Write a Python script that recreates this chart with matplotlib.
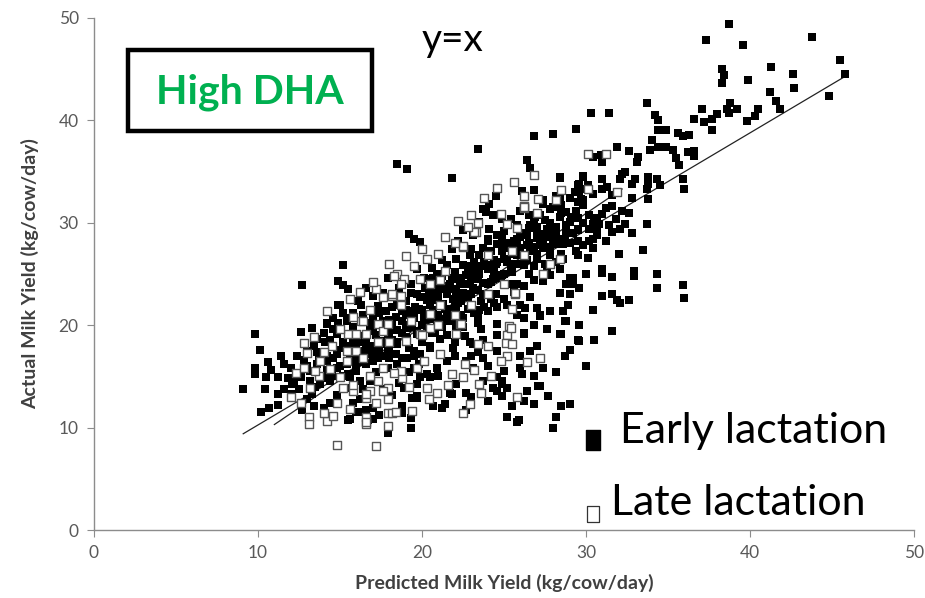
import numpy as np
import matplotlib
matplotlib.use("Agg")
import matplotlib.pyplot as plt
from matplotlib.lines import Line2D
from matplotlib.patches import Rectangle

plt.rcParams['font.family'] = ['Lato', 'DejaVu Sans']

# predicted vs actual milk yield (kg/cow/day)
early_pts = [
    (37.3,47.9),(39.6,47.4),(43.8,48.1),(45.5,45.9),(45.8,44.5),(44.8,42.4),(41.3,45.2),(42.6,44.5),(42.7,43.2),
    (41.2,42.8),(41.6,41.9),(41.8,41.1),(39.9,43.9),(38.3,45.0),(38.4,44.4),(38.3,43.7),(40.5,41.1),(40.3,40.4),
    (39.8,39.9),(38.8,41.7),(39.2,41.1),(38.6,41.1),(38.7,40.7),(38.0,40.6),(37.7,40.1),(37.7,39.1),(37.2,39.8),
    (37.1,41.1),(36.6,40.1),(36.3,38.6),(35.9,38.5),(35.6,38.8),(34.9,39.1),(34.4,39.1),(33.7,41.7),(34.2,40.5),
    (34.4,40.0),(34.0,38.1),(34.4,37.4),(34.9,37.4),(35.3,37.1),(36.6,37.0),(36.5,36.9),(36.2,36.9),(36.6,36.5),
    (35.5,36.3),(35.7,35.6),(33.9,37.1),(33.2,36.4),(33.1,35.9),(32.6,37.0),(31.9,37.4),(30.3,40.7),(31.4,40.7),
    (29.4,39.2),(35.9,34.3),(36.0,33.3),(33.8,34.5),(34.3,34.3),(33.8,33.8),(34.5,33.7),(33.7,33.3),(33.0,34.3),
    (32.8,33.8),(32.4,35.0),(32.2,34.8),(32.1,34.3),(31.0,34.3),(29.8,34.5),(33.8,32.3),(32.8,32.4),(31.9,33.0),
    (31.6,32.7),(31.0,33.3),(31.3,33.5),(30.4,32.8),(29.9,33.3),(29.5,33.7),(29.7,32.3),(31.6,31.6),(32.2,31.2),
    (31.0,30.9),(30.5,30.4),(30.4,29.9),(30.8,29.9),(31.4,29.8),(32.4,29.9),(32.1,29.4),(31.6,29.1),(33.7,29.9),
    (30.2,29.4),(30.7,28.8),(30.4,27.5),(32.0,27.0),(33.5,27.3),(30.1,26.6),(30.4,36.4),(30.9,36.6),(31.0,35.9),
    (38.7,49.4),
    (28.0,38.7),(26.8,38.5),(23.4,37.2),(18.5,35.7),(19.1,35.3),(21.8,34.4),(26.4,36.1),(26.6,35.4),(28.4,34.4),
    (29.8,34.6),(29.6,33.8),(30.1,33.7),(29.3,33.0),(29.6,33.0),(26.8,33.2),(26.1,33.1),(24.5,32.6),(24.1,31.8),
    (28.4,32.3),(28.5,31.7),(28.0,31.5),(29.8,32.2),(29.8,31.7),(29.5,32.0),(27.4,32.2),(23.9,31.1),(23.7,31.3),
    (24.3,30.8),(24.9,30.4),(25.8,29.8),(26.5,30.8),(26.9,30.6),(27.8,31.3),(28.8,31.1),(29.1,30.6),(30.2,30.8),
    (30.7,30.5),(30.4,28.4),(30.7,29.1),(29.5,29.3),(22.5,29.3),(19.2,28.9),(19.5,28.4),(19.9,28.1),(28.7,28.3),
    (28.2,27.9),(27.4,27.5),(26.8,27.2),(25.8,26.9),(25.2,27.5),(25.1,28.0),(24.9,28.4),(23.7,27.5),(24.0,28.4),
    (15.2,25.9),(12.7,23.9),(9.8,19.1),(14.9,24.3),(15.2,23.9),(15.5,23.5),(16.6,23.6),(17.0,22.9),(17.6,23.1),
    (17.9,24.6),(19.7,25.5),(21.5,25.9),(16.1,22.4),(16.3,22.0),(14.9,22.0),(17.3,21.9),(17.8,21.4),(14.6,20.7),
    (14.2,20.1),(13.3,19.7),(12.6,19.3),(13.6,18.7),(14.4,18.6),(15.4,20.7),(15.8,21.2),(18.5,22.0),(18.8,21.4),
    (19.7,23.0),(19.3,24.0),(20.1,24.6),(20.7,24.6),(20.9,24.0),(21.7,23.6),(22.1,23.3),(22.3,24.3),(22.9,24.0),
    (23.4,24.5),(23.7,23.0),(22.5,20.7),(22.6,18.9),(23.1,18.2),(23.7,18.6),(23.4,20.2),(26.2,19.2),(24.6,20.1),
    (25.2,22.0),(25.8,24.0),(26.2,20.7),
    (10.1,17.6),(11.4,17.0),(9.8,15.8),(9.8,15.2),(9.1,13.8),(10.5,14.9),(11.2,14.9),(10.4,13.8),(11.2,13.3),
    (11.2,12.2),(10.7,11.9),(10.2,11.5),(12.0,13.3),(12.1,14.3),(11.8,14.8),(12.6,14.9),(13.2,15.5),(13.5,18.7),
    (14.1,18.4),(13.4,18.0),(13.0,17.5),(13.7,16.8),(14.2,16.5),(14.8,15.8),(14.4,14.6),(13.8,14.3),(13.3,13.3),
    (12.7,11.9),(13.4,12.1),(14.0,11.9),(14.5,12.4),(15.5,10.7),(16.0,11.5),(16.6,11.7),(17.0,11.9),(16.7,10.7),
    (17.9,9.5),(19.3,10.0),(18.8,12.1),(18.8,11.4),(17.6,13.8),(16.8,14.6),(16.4,13.8),(15.4,13.9),(15.6,14.9),
    (16.0,15.5),(15.0,22.0),(14.2,20.2),(14.9,20.2),(15.4,20.4),(14.8,19.1),(15.2,18.4),(15.7,17.8),(16.2,17.2),
    (17.0,16.5),(17.9,15.8),(18.5,15.2),(18.9,13.9),(19.7,14.3),(19.4,12.9),(17.3,17.5),(16.4,18.4),(16.8,19.4),
    (17.4,20.1),(17.9,19.1),(18.5,18.4),(19.1,19.7),(19.7,19.1),(19.5,17.5),(18.8,16.8),(18.0,16.8),(20.1,16.5),
    (20.3,15.2),(20.1,20.7),(19.3,21.4),(17.4,21.2),(16.8,20.2),
    (18.2,21.8),(18.8,22.5),(19.3,23.1),(19.9,22.8),(20.3,22.5),(20.7,23.3),(21.3,23.5),(21.7,24.0),(22.1,24.5),
    (22.0,25.2),(22.7,24.9),(22.5,25.9),(23.4,25.5),(24.0,25.9),(24.6,26.2),(24.9,27.2),(25.4,27.9),(25.8,28.4),
    (26.4,28.8),(27.0,29.1),(27.6,29.4),(28.2,29.6),(28.8,29.1),(29.5,29.4),(26.6,27.2),(27.0,26.5),(26.2,25.9),
    (25.5,25.2),(24.9,24.9),(24.3,24.5),(23.7,24.1),(23.1,23.6),(22.5,23.1),(21.9,22.6),(21.3,22.1),(20.7,21.5),
    (20.1,21.1),(19.5,20.7),(18.8,20.4),(18.2,20.1),(17.6,19.7),(17.0,19.4),(16.4,18.9),(15.8,18.4),(15.2,17.8),
    (14.8,17.2),(15.4,16.2),(16.0,15.5),(16.6,16.2),(17.3,16.8),(17.9,17.5),(18.5,18.2),(19.1,18.7),(19.7,19.4),
    (20.3,19.7),(20.9,20.4),(21.5,21.1),(22.1,21.7),(23.4,20.9),(24.0,21.4),(24.6,21.8),(26.0,22.0),(26.6,22.8),
    (27.4,24.3),(27.8,24.9),(28.4,25.5),(28.8,24.0),(29.0,23.0),(28.6,21.4),(27.8,21.4),(27.2,20.9),(28.8,20.4),
    (28.4,19.1),(28.7,17.0),(26.6,17.5),(26.2,19.1),(24.6,17.5),(24.1,18.0),(23.7,16.8),(23.1,15.8),(23.4,17.4),
    (22.7,16.5),(22.9,18.4),(21.9,17.8),(21.5,16.5),(20.9,15.8),(20.5,14.9),(19.9,14.9),(19.5,15.8),(19.1,16.8),
    (21.1,18.7),(20.5,17.8),(19.9,17.2),(22.1,19.7),(24.6,14.9),(24.3,13.9),(25.2,13.9),(24.9,13.1),(26.0,15.8),
    (26.1,15.2),(26.8,15.0),(27.1,14.1),(27.7,13.1),(27.4,15.8),(29.5,18.6),(29.2,24.0),(29.2,24.6),(27.0,21.7),
    (26.3,21.7),(23.5,30.1),(24.1,29.4),(24.6,28.8),(23.1,28.8),(24.0,28.2),(24.6,27.9),(22.9,26.9),(23.5,26.9),
    (22.1,26.5),(20.9,25.0),(20.5,24.5),(26.6,29.8),(27.4,28.8),(28.0,28.2),(28.6,27.9),(27.8,26.9),(28.6,26.5),
    (29.5,26.9),(29.5,28.2),(29.0,30.1),
    (31.0,25.5),(31.0,25.1),(31.6,24.7),(32.9,25.3),(32.9,24.8),(34.3,25.0),(34.3,23.6),(35.9,23.9),(36.0,22.7),
    (31.0,22.9),(31.6,23.0),(31.9,22.5),(32.1,22.2),(32.6,22.5),(30.4,21.5),(31.6,19.4),(30.5,18.6),(29.6,18.5),
    (28.7,20.4),(28.5,19.1),(29.6,23.6),(30.0,25.0),(28.9,22.0),(28.4,23.1),(27.2,21.0),(29.0,24.6),(28.4,34.5),
    (12.7,11.7),(14.4,12.4),(15.6,10.8),(16.4,11.5),(17.0,10.8),(19.3,10.9),(20.7,12.1),(21.2,11.9),(21.4,12.3),
    (22.7,11.7),(21.8,13.3),(22.7,13.4),(19.7,13.1),
    (24.9,14.3),(25.5,12.1),(26.8,12.3),(27.2,14.1),(27.7,13.1),(28.5,12.1),(29.0,12.3),(28.2,11.0),(28.0,10.0),
    (25.9,10.7),(25.2,11.0),(25.8,10.5),(26.2,12.6),(24.6,13.6),(24.9,14.6),(23.7,14.6),(22.1,14.3),(21.7,13.4),
    (19.7,12.9),
    (16.5,17.5),(17.0,18.0),(17.5,18.5),(18.0,19.0),(18.5,19.5),(19.0,20.0),(19.5,21.0),(20.0,21.5),(20.5,22.0),
    (21.0,22.5),(21.5,23.0),(22.0,23.5),(22.5,24.0),(23.0,24.5),(23.5,25.0),(24.0,25.5),(24.5,26.0),(25.0,26.5),
    (25.5,27.0),(26.0,27.5),(26.5,28.0),(27.0,28.5),(27.5,28.9),(28.0,29.3),(16.0,18.5),(17.0,19.5),(18.0,20.5),
    (19.0,21.5),(20.0,22.8),(21.0,23.8),(22.0,24.8),(23.0,25.8),(24.0,26.8),(25.0,27.8),(26.0,28.6),(27.0,29.6),
    (17.0,16.8),(18.0,17.8),(19.0,18.8),(20.0,20.0),(21.0,21.0),(22.0,22.0),(23.0,23.0),(24.0,24.0),(25.0,25.0),
    (26.0,26.0),(27.0,27.0),(28.0,28.0),(15.0,16.0),(16.0,16.0),(14.5,15.0),(15.5,15.2),(13.5,14.0),(14.0,14.8),
    (12.5,13.8),(18.5,16.2),(19.5,17.0),(20.5,18.0),(21.5,19.0),(22.5,19.8),(23.5,21.5),(24.5,23.0),(25.5,24.0),
    (26.5,25.0),(27.5,26.0),(28.5,27.0),(29.0,28.0),(29.5,30.5),(28.5,31.0),(27.5,30.3),(26.5,29.5),
    (13.0,16.0),(13.6,16.2),(14.2,15.6),(14.6,16.8),(15.2,15.0),(15.8,16.6),(16.2,14.6),(16.6,17.8),(17.2,15.4),
    (17.6,17.0),(14.0,19.2),(14.6,19.6),(15.2,21.2),(15.8,19.8),(16.4,21.0),(17.0,20.8),(17.6,20.4),(18.2,19.6),
    (12.4,17.0),(12.0,15.8),(11.6,16.2),(13.0,12.8),(14.8,13.2),(15.8,12.4),(16.2,12.8),(17.4,11.2),(18.2,13.2),
    (18.6,14.4),(19.2,15.4),(19.8,16.2),
    (18.6,23.6),(19.0,22.4),(19.6,21.8),(20.2,23.6),(20.8,22.8),(21.2,24.8),(21.8,24.6),(22.4,22.4),(22.8,25.4),
    (23.2,26.2),(23.8,26.2),(24.2,27.2),(21.6,21.6),(22.2,22.8),(20.6,20.6),(21.2,20.6),(22.8,21.6),(23.6,22.4),
    (24.2,22.6),(24.8,24.6),(24.4,25.2),(23.0,27.4),(22.2,28.2),(21.8,27.4),(21.2,26.4),(20.6,25.6),
    (25.0,29.2),(25.6,28.2),(26.2,29.0),(26.8,30.0),(27.2,30.8),(27.8,30.0),(28.4,30.6),(28.8,29.8),(29.4,31.2),
    (29.8,30.0),(25.4,30.4),(26.0,31.2),(27.4,31.8),(28.2,32.6),(29.0,32.4),(25.6,26.0),(26.4,26.4),(27.2,27.8),
    (27.8,27.6),(28.4,28.4),(29.2,29.0),(26.8,25.8),(27.6,25.2),(28.2,26.2),(29.8,27.8),(30.2,28.2),(29.4,27.2),
    (31.2,31.4),(31.8,30.4),(32.6,31.0),(32.8,29.0),(31.2,28.2),
    (21.0,15.0),(22.0,17.0),(23.0,17.0),(24.0,16.0),(25.0,15.5),(26.0,17.0),(27.0,18.0),(27.6,19.6),(26.8,20.0),
    (25.8,21.0),(24.6,19.0),(23.6,19.6),(22.0,18.4),(21.6,20.4),(20.8,19.2),(23.0,13.0),(24.0,12.6),(26.4,13.6),
    (28.2,15.4),(29.6,20.0),(30.0,16.0),(29.0,17.6),
    (16.8,17.2),(17.4,17.8),(18.2,18.6),(18.8,19.2),(19.4,19.8),(20.2,20.4),(20.8,21.0),(21.4,21.6),(22.2,22.2),
    (22.8,22.8),(23.4,23.4),(24.2,24.2),(24.8,24.8),(25.4,25.6),(26.2,26.8),(26.8,27.6),(27.4,28.2),(28.2,28.8),
    (17.8,18.2),(18.4,17.2),(19.2,17.8),(20.0,18.4),(20.6,19.2),(21.2,19.8),(21.8,20.4),(22.4,21.0),(23.2,21.2),
    (23.8,21.8),(24.4,22.2),(25.0,22.6),(25.6,23.2),(26.2,23.8),(26.8,24.4),(27.4,24.8),
    (17.2,19.0),(17.8,20.0),(18.4,20.8),(19.0,21.0),(19.8,21.6),(20.4,23.0),(21.0,23.2),(21.6,23.8),(22.4,24.6),
    (23.0,25.2),(23.6,25.8),(24.4,26.4),(25.2,26.2),(25.8,27.6),(26.4,27.8),(27.2,28.0),(27.8,28.6),
    (14.2,17.0),(14.8,17.6),(15.4,18.0),(16.0,18.0),(16.6,18.6),(15.6,17.2),(16.2,16.4),(13.6,17.4),(12.8,16.6),
    (12.2,14.6),(13.2,14.6),(11.6,13.8),(10.8,15.6),(10.6,16.4),
]

late_pts = [
    (30.1,36.7),(31.2,36.7),(30.1,33.3),(26.8,34.7),(28.5,33.2),(27.1,32.3),(28.2,32.2),(26.2,31.4),(26.2,32.6),
    (23.0,30.8),(23.4,30.0),(23.3,29.1),(22.5,27.6),(24.8,30.9),(25.8,29.5),(25.2,29.9),(27.0,31.0),(31.9,33.0),
    (18.5,25.0),(18.9,24.5),(19.9,24.5),(20.5,24.0),(21.1,24.4),(18.2,22.9),(18.7,22.9),(16.3,20.4),(12.8,18.3),
    (25.3,19.9),(25.2,19.0),(25.1,18.3),(23.4,18.2),(22.3,20.1),(25.7,23.0),(26.2,31.6),(25.5,27.2),(17.3,20.1),
    (17.6,19.4),(20.5,19.7),(13.0,17.3),(12.3,15.3),(13.7,15.0),(13.2,13.9),(13.1,11.0),(13.1,10.4),(14.2,10.6),
    (14.6,11.1),(14.8,8.3),(17.2,8.2),(16.6,11.0),(16.6,10.4),(17.9,10.2),(17.9,11.4),(18.2,11.4),(17.2,12.4),
    (14.4,15.7),(15.0,14.9),(15.8,13.6),(16.6,12.9),(15.5,19.1),(16.0,17.5),(15.4,16.5),(17.3,14.6),(17.9,13.9),
    (18.8,14.8),(19.7,15.8),(18.7,22.0),(17.9,20.1),(16.6,19.1),(21.4,25.3),(22.5,27.7),(23.2,29.1),(24.0,26.9),
    (25.7,23.1),(25.5,21.6),(25.4,19.7),(25.2,17.0),(24.0,18.0),(22.1,19.1),(22.4,20.1),(26.2,26.9),(27.8,26.0),
    (27.4,25.0),(28.4,26.5),(16.4,20.4),(17.6,22.8),(18.2,23.0),(18.7,24.0),(21.1,22.0),(20.5,21.1),(19.3,20.4),
    (19.9,19.1),(18.0,18.4),(17.3,18.4),(16.0,19.1),(15.4,17.5),(16.4,16.8),(17.6,15.8),(18.7,15.5),(20.1,16.5),
    (21.1,17.2),(22.5,14.9),(23.5,14.3),(20.3,13.9),(20.9,13.4),(15.2,13.9),(16.8,13.6),(26.2,31.5),(25.5,18.2),
    (14.0,11.4),(16.6,10.5),(18.4,11.5),(17.9,12.8),(22.5,11.4),(22.9,12.3),(16.6,13.3),(17.6,13.6),
    (14.5,18.0),(15.0,19.6),(15.8,20.8),(16.8,21.5),(17.2,23.5),(18.3,24.8),(19.5,25.8),(20.3,26.5),(21.0,27.0),
    (22.0,28.0),(22.8,29.6),(13.8,16.5),(14.0,17.4),(12.8,15.8),(13.5,15.5),(19.0,18.5),(20.0,19.0),(21.0,20.0),
    (22.0,21.0),(23.0,22.0),(24.0,23.0),(25.0,24.0),(15.8,14.2),(16.8,15.0),(18.3,15.3),(19.2,14.0),(21.8,15.2),
    (22.6,16.2),(24.8,16.5),
    (13.4,18.8),(14.2,21.4),(15.6,22.6),(16.2,23.2),(17.0,24.2),(18.0,26.0),(19.0,26.8),(20.0,27.4),(21.4,28.6),
    (22.2,30.2),(23.8,32.4),(24.6,33.4),(25.6,34.0),(12.0,13.0),(12.6,12.4),(14.8,12.4),(15.6,11.8),(19.4,11.6),
    (20.4,12.8),(21.6,14.2),(23.2,15.6),(24.2,15.0),(26.4,16.4),(27.2,16.8),(25.8,13.0),(23.6,13.4),
]

# reference lines (end points)
line_a_x = [9.1, 45.7]
line_a_y = [9.4, 44.2]
line_b_x = [11.0, 32.2]
line_b_y = [10.3, 33.3]

early = np.array(early_pts)
late = np.array(late_pts)

fig = plt.figure(figsize=(9.25, 5.98), dpi=100)
ax = fig.add_axes([0.1016, 0.1137, 0.8865, 0.8562])

# lines sit under the markers
ax.plot(line_a_x, line_a_y, color='#222222', lw=0.9, zorder=2)
ax.plot(line_b_x, line_b_y, color='#222222', lw=0.9, zorder=2)
ax.scatter(early[:, 0], early[:, 1], marker='s', s=36, c='black', linewidths=0, zorder=3)
ax.scatter(late[:, 0], late[:, 1], marker='s', s=26, facecolors='white',
           edgecolors='#555555', linewidths=1.0, zorder=4)

ax.set_xlim(0, 50)
ax.set_ylim(0, 50)
ax.set_xticks(range(0, 51, 10))
ax.set_yticks(range(0, 51, 10))
for s in ['top', 'right']:
    ax.spines[s].set_visible(False)
for s in ['left', 'bottom']:
    ax.spines[s].set_color('#8c8c8c')
    ax.spines[s].set_linewidth(1.0)
ax.tick_params(colors='#8c8c8c', labelcolor='#595959', labelsize=12.5, length=5,
               direction='out', pad=6)
ax.set_xlabel('Predicted Milk Yield (kg/cow/day)', fontsize=14, fontweight='bold',
              color='#404040', labelpad=9)
ax.set_ylabel('Actual Milk Yield (kg/cow/day)', fontsize=14, fontweight='bold',
              color='#404040', labelpad=14)

# title box
fig.patches.append(Rectangle((128 / 925, 1 - 131 / 598), 244 / 925, 81 / 598,
                             transform=fig.transFigure, fill=False, ec='black', lw=3.2))
fig.text(250 / 925, 1 - 92 / 598, 'High DHA', color='#00B050', fontsize=29.5,
         fontweight='bold', ha='center', va='center')
fig.text(453 / 925, 1 - 40 / 598, 'y=x', color='black', fontsize=28, ha='center', va='center')

# legend glyphs and labels
tall = [(-0.68, -1), (0.68, -1), (0.68, 1), (-0.68, 1), (-0.68, -1)]
fig.add_artist(Line2D([593 / 925], [1 - 440 / 598], transform=fig.transFigure, ls='none',
                      marker=tall, markersize=14.5, color='black'))
fig.add_artist(Line2D([593 / 925], [1 - 514 / 598], transform=fig.transFigure, ls='none',
                      marker=tall, markersize=12, markerfacecolor='white',
                      markeredgecolor='#333333', markeredgewidth=0.9))
fig.text(620 / 925, 1 - 443 / 598, 'Early lactation', fontsize=31, va='baseline')
fig.text(611 / 925, 1 - 515 / 598, 'Late lactation', fontsize=31, va='baseline')

fig.savefig('out.png', dpi=100)
